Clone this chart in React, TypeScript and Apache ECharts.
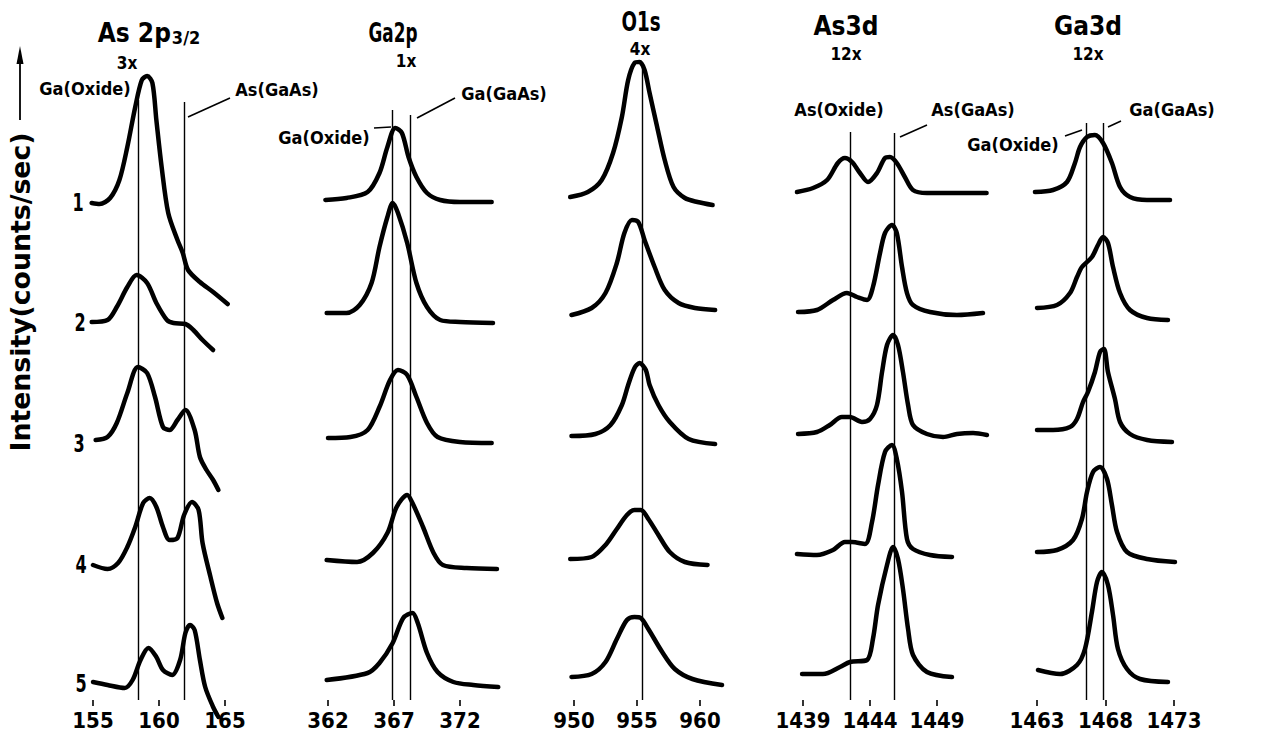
import React, { useEffect, useRef } from "react";
import * as echarts from "echarts";

const FONT = "'DejaVu Sans Condensed','Liberation Sans Narrow','Roboto Condensed','DejaVu Sans',sans-serif";

// ---- tick labels (binding energy, eV) ----
const as2pTicks = [155, 160, 165];
const ga2pTicks = [362, 367, 372];
const o1sTicks = [950, 955, 960];
const as3dTicks = [1439, 1444, 1449];
const ga3dTicks = [1463, 1468, 1473];

// ---- reference lines: [energy, top intensity] ----
const as2pRefs = [[158.4, 600], [161.9, 598]];
const ga2pRefs = [[366.85, 590], [368.2, 585]];
const o1sRefs = [[955.4, 636]];
const as3dRefs = [[1442.5, 568], [1445.8, 567]];
const ga3dRefs = [[1466.6, 577], [1467.8, 577]];

const sampleLabels = ["1", "2", "3", "4", "5"];

// ---- spectra (energy, offset intensity), samples 1..5 ----
const as2pSpectra = [
  [[154.9,497],[155.5,496],[156.3,502],[157.0,520],[157.6,553],[158.2,593],[158.7,620],[159.1,624],[159.5,617],[159.8,580],[160.2,533],[160.7,487],[161.4,460],[161.8,447],[162.2,430],[163.1,418],[164.1,408],[165.2,396]],
  [[154.9,378],[156.1,380],[156.8,393],[157.6,413],[158.3,425],[159.1,417],[159.8,397],[160.6,380],[161.1,377],[162.0,376],[162.6,370],[163.3,360],[164.1,350]],
  [[155.2,260],[156.1,263],[156.8,277],[157.6,307],[158.4,333],[159.1,327],[159.7,303],[160.3,273],[160.8,270],[161.4,280],[162.0,290],[162.7,270],[163.1,243],[163.6,230],[164.1,220],[164.5,210]],
  [[155.0,135],[156.1,131],[156.9,137],[157.6,153],[158.2,173],[158.8,197],[159.3,202],[159.8,193],[160.3,173],[160.8,160],[161.4,162],[161.9,185],[162.5,198],[163.0,190],[163.3,157],[163.9,123],[164.4,97],[164.8,82]],
  [[155.0,18],[156.1,15],[157.4,12],[158.0,20],[158.6,40],[159.2,52],[159.8,43],[160.3,30],[161.0,25],[161.6,40],[162.0,67],[162.35,75],[162.7,70],[163.1,40],[163.5,13],[164.1,-7],[164.5,-17]],
];

const ga2pSpectra = [
  [[361.8,500],[363.4,502],[365.0,508],[365.9,527],[366.5,553],[367.1,572],[367.6,567],[368.1,543],[368.7,523],[369.5,507],[370.5,500],[372.0,498],[374.4,498]],
  [[361.9,387],[363.4,387],[364.4,395],[365.3,417],[365.9,453],[366.5,483],[366.9,497],[367.3,487],[368.0,457],[368.7,417],[369.5,393],[370.5,380],[372.0,378],[374.5,377]],
  [[362.0,262],[363.7,263],[365.0,270],[365.9,293],[366.7,320],[367.3,330],[368.0,325],[368.7,303],[369.5,277],[370.3,263],[372.0,258],[374.4,257]],
  [[361.9,140],[364.2,138],[365.4,147],[366.5,167],[367.2,193],[368.0,205],[368.4,197],[369.2,173],[370.0,147],[370.7,135],[372.5,132],[374.8,131]],
  [[361.9,20],[365.0,27],[365.9,37],[366.9,57],[367.7,82],[368.4,87],[368.8,77],[369.5,47],[370.3,28],[371.5,18],[373.0,15],[374.9,13]],
];

const o1sSpectra = [
  [[949.7,503],[951.1,508],[952.2,520],[953.1,547],[953.8,583],[954.3,620],[954.8,637],[955.2,638],[955.6,630],[956.0,607],[956.6,573],[957.2,540],[957.9,513],[958.8,502],[959.8,498],[961.0,495]],
  [[949.8,385],[951.4,392],[952.5,407],[953.4,437],[954.0,467],[954.6,480],[955.1,478],[955.6,460],[956.4,433],[957.2,410],[958.3,397],[959.6,392],[961.2,390]],
  [[949.8,264],[951.7,266],[952.9,275],[953.8,295],[954.3,315],[954.8,332],[955.2,337],[955.7,330],[956.0,315],[956.7,295],[957.6,278],[959.1,261],[961.2,256]],
  [[949.7,141],[951.4,143],[952.5,155],[953.4,171],[954.2,185],[954.8,190],[955.3,190],[955.9,181],[956.7,165],[957.6,148],[958.8,138],[960.6,135]],
  [[949.8,23],[951.4,26],[952.5,38],[953.4,61],[954.2,80],[954.8,83],[955.3,82],[955.9,71],[957.0,48],[958.0,31],[959.4,21],[961.75,15]],
];

const as3dSpectra = [
  [[1438.55,508],[1439.75,512],[1440.8,520],[1441.6,537],[1442.13,542],[1442.66,538],[1443.25,527],[1443.85,518],[1444.52,527],[1445.12,542],[1445.49,543],[1446.0,537],[1446.6,523],[1447.2,510],[1448.25,507],[1450.2,507],[1452.7,507]],
  [[1438.63,388],[1440.04,390],[1441.24,400],[1442.28,407],[1443.03,403],[1443.78,400],[1444.22,413],[1444.75,447],[1445.12,467],[1445.64,475],[1446.0,467],[1446.39,433],[1446.76,407],[1447.21,395],[1448.48,388],[1450.49,385],[1452.43,387]],
  [[1438.63,266],[1440.04,268],[1441.0,275],[1441.9,283],[1442.5,283],[1443.4,278],[1444.0,281],[1444.52,295],[1444.9,328],[1445.27,355],[1445.72,365],[1446.09,355],[1446.46,328],[1446.84,295],[1447.21,275],[1448.25,266],[1449.45,263],[1450.49,266],[1451.69,267],[1452.73,265]],
  [[1438.55,146],[1440.04,145],[1441.24,150],[1442.13,158],[1442.66,158],[1443.63,156],[1444.15,178],[1444.6,215],[1445.12,248],[1445.64,255],[1446.0,241],[1446.39,208],[1446.76,161],[1447.21,151],[1448.48,145],[1450.12,143]],
  [[1438.93,26],[1440.49,26],[1441.76,33],[1442.51,38],[1443.78,40],[1444.22,61],[1444.6,95],[1445.27,135],[1445.72,153],[1446.09,141],[1446.46,111],[1446.84,71],[1447.21,45],[1448.25,28],[1450.12,23]],
];

const ga3dSpectra = [
  [[1462.85,508],[1464.17,510],[1465.19,518],[1465.77,537],[1466.14,553],[1466.65,563],[1467.23,565],[1467.82,557],[1468.47,537],[1469.06,513],[1469.79,503],[1471.03,500],[1472.71,500]],
  [[1463.0,392],[1464.46,395],[1465.41,407],[1465.92,423],[1466.28,433],[1467.01,443],[1467.45,455],[1467.82,463],[1468.18,457],[1468.55,433],[1469.06,407],[1469.79,390],[1471.03,382],[1472.56,380]],
  [[1463.0,270],[1464.17,270],[1465.41,273],[1465.92,281],[1466.36,298],[1466.72,308],[1467.23,328],[1467.6,348],[1467.89,351],[1468.18,328],[1468.69,301],[1469.06,278],[1469.79,266],[1471.03,260],[1472.85,258]],
  [[1463.0,148],[1464.46,150],[1465.63,160],[1466.28,181],[1466.65,208],[1467.09,228],[1467.6,233],[1468.11,221],[1468.47,195],[1468.84,168],[1469.57,148],[1471.03,141],[1473.07,138]],
  [[1463.07,30],[1464.68,26],[1465.92,35],[1466.5,51],[1467.01,88],[1467.38,118],[1467.74,128],[1468.18,115],[1468.55,85],[1468.91,51],[1469.57,31],[1470.52,21],[1472.56,18]],
];

// ---- layout (pixels) ----
const panels = [
  { spectra: as2pSpectra, ticks: as2pTicks, refs: as2pRefs, min: 154, max: 166, left: 79.8, width: 158.4 },
  { spectra: ga2pSpectra, ticks: ga2pTicks, refs: ga2pRefs, min: 361, max: 375, left: 314.8, width: 184.8 },
  { spectra: o1sSpectra, ticks: o1sTicks, refs: o1sRefs, min: 949, max: 962, left: 561.4, width: 163.8 },
  { spectra: as3dSpectra, ticks: as3dTicks, refs: as3dRefs, min: 1438, max: 1454, left: 789.6, width: 214.4 },
  { spectra: ga3dSpectra, ticks: ga3dTicks, refs: ga3dRefs, min: 1462, max: 1474, left: 1023.3, width: 164.4 },
];

const txt = (x: number, y: number, text: string, size: number, sx = 1, sy = 1) => ({
  type: "text",
  x,
  y,
  scaleX: sx,
  scaleY: sy,
  silent: true,
  style: {
    text,
    font: `bold ${size}px ${FONT}`,
    fill: "#000",
    align: "center",
    verticalAlign: "middle",
    textAlign: "center",
    textVerticalAlign: "middle",
  },
});

const seg = (x1: number, y1: number, x2: number, y2: number, w = 1.6) => ({
  type: "line",
  silent: true,
  shape: { x1, y1, x2, y2 },
  style: { stroke: "#000", lineWidth: w },
});

export default function App() {
  const ref = useRef<HTMLDivElement>(null);
  useEffect(() => {
    if (!ref.current) return;
    const chart = echarts.init(ref.current, null, { renderer: "svg" });

    const grid = panels.map((p) => ({ left: p.left, width: p.width, top: 40, bottom: 44, containLabel: false }));
    const xAxis = panels.map((p, i) => ({
      type: "value",
      gridIndex: i,
      min: p.min,
      max: p.max,
      axisLine: { show: false },
      splitLine: { show: false },
      axisTick: { show: true, customValues: p.ticks, length: 6, lineStyle: { color: "#000", width: 1.6 } },
      axisLabel: {
        show: true,
        customValues: p.ticks,
        formatter: (v: number) => String(v),
        margin: 9,
        color: "#000",
        fontFamily: FONT,
        fontWeight: "bold",
        fontSize: 22,
      },
    }));
    const yAxis = panels.map((p, i) => ({ type: "value", gridIndex: i, min: 0, max: 660, show: false }));

    const series: any[] = [];
    panels.forEach((p, i) => {
      p.spectra.forEach((data, k) => {
        const s: any = {
          type: "line",
          name: `${i}-${sampleLabels[k]}`,
          xAxisIndex: i,
          yAxisIndex: i,
          data,
          smooth: 0.3,
          showSymbol: false,
          clip: false,
          silent: true,
          lineStyle: { color: "#000", width: 4.5, cap: "round", join: "round" },
          z: 3,
        };
        if (k === 0) {
          s.markLine = {
            silent: true,
            symbol: "none",
            label: { show: false },
            lineStyle: { color: "#000", width: 1.4, type: "solid" },
            z: 2,
            data: p.refs.map((r) => [{ coord: [r[0], 0] }, { coord: [r[0], r[1]] }]),
          };
        }
        series.push(s);
      });
    });

    const graphic: any[] = [
      // y axis title + arrow
      {
        type: "text",
        x: 21,
        y: 292,
        rotation: Math.PI / 2,
        scaleX: 1.1,
        silent: true,
        style: {
          text: "Intensity(counts/sec)",
          font: `bold 27px ${FONT}`,
          fill: "#000",
          align: "center",
          verticalAlign: "middle",
          textAlign: "center",
          textVerticalAlign: "middle",
        },
      },
      seg(20, 120, 20, 56, 1.8),
      { type: "polygon", silent: true, shape: { points: [[16.5, 64], [23.5, 64], [20, 46]] }, style: { fill: "#000" } },
      // sample numbers
      txt(78, 202, sampleLabels[0], 21, 0.85, 1.15),
      txt(80, 322, sampleLabels[1], 21, 0.85, 1.15),
      txt(79, 443, sampleLabels[2], 21, 0.85, 1.15),
      txt(81, 564, sampleLabels[3], 21, 0.85, 1.15),
      txt(81, 683, sampleLabels[4], 21, 0.85, 1.15),
      // panel 1
      {
        type: "text",
        x: 149,
        y: 33,
        silent: true,
        style: {
          text: "{m|As 2p}{s|3/2}",
          fill: "#000",
          align: "center",
          verticalAlign: "middle",
          textAlign: "center",
          textVerticalAlign: "middle",
          rich: {
            m: { font: `bold 26px ${FONT}`, fill: "#000" },
            s: { font: `bold 18px ${FONT}`, fill: "#000", padding: [8, 0, 0, 1] },
          },
        },
      },
      txt(127, 63, "3x", 17),
      txt(85, 88, "Ga(Oxide)", 18),
      txt(277, 89, "As(GaAs)", 18),
      seg(188, 117, 230, 98),
      // panel 2
      txt(393, 33, "Ga2p", 26, 0.72, 1),
      txt(406, 61, "1x", 17),
      txt(504, 93, "Ga(GaAs)", 18),
      txt(324, 137, "Ga(Oxide)", 18),
      seg(374, 128, 391, 127),
      seg(417, 118, 455, 98),
      // panel 3
      txt(641, 22, "O1s", 26, 0.78, 1),
      txt(640, 49, "4x", 17),
      // panel 4
      txt(846, 26, "As3d", 26),
      txt(846, 54, "12x", 17),
      txt(839, 109, "As(Oxide)", 18),
      txt(973, 109, "As(GaAs)", 18),
      seg(900, 137, 927, 125),
      // panel 5
      txt(1088, 26, "Ga3d", 26),
      txt(1088, 54, "12x", 17),
      txt(1172, 109, "Ga(GaAs)", 18),
      txt(1013, 144, "Ga(Oxide)", 18),
      seg(1065, 136, 1082, 130),
      seg(1108, 127, 1121, 121),
    ];

    chart.setOption({
      animation: false,
      backgroundColor: "#fff",
      grid,
      xAxis,
      yAxis,
      series,
      graphic,
    });
    return () => chart.dispose();
  }, []);

  return (
    <div
      ref={ref}
      style={{ position: "fixed", left: 0, top: 0, width: 1282, height: 744, background: "#fff" }}
    />
  );
}
